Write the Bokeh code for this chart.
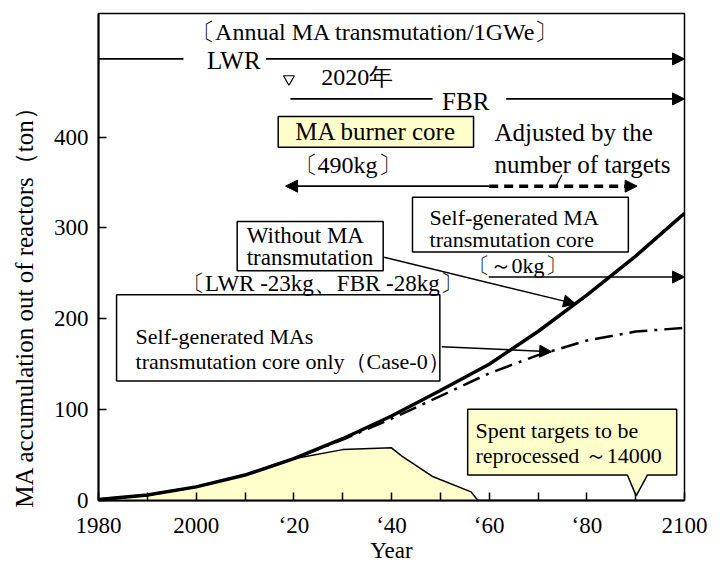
from bokeh.plotting import figure
from bokeh.models import Range1d, FixedTicker, Arrow, NormalHead
from bokeh.core.properties import value
from bokeh.embed import file_html
from bokeh.resources import INLINE

# ---- data ----
years = [1980, 1990, 2000, 2010, 2020, 2030, 2040, 2050, 2060, 2070, 2080, 2090, 2100]
without_ma = [1, 6, 15, 28, 46, 68, 93, 121, 150, 186, 226, 269, 316]
case0 = [1, 6, 15, 28, 46, 67, 90, 115, 140, 160, 176, 186, 190]
target_years = [1980, 1990, 2000, 2010, 2020, 2030, 2040, 2042.2, 2048.3, 2056.3, 2057.7]
target_vals = [1, 6, 15, 28, 46, 56, 58, 48.6, 26.7, 9.5, 0]
x_ticks = [1980, 2000, 2020, 2040, 2060, 2080, 2100]
x_minor = [1990, 2010, 2030, 2050, 2070, 2090]
x_tick_labels = ["1980", "2000", "\u201820", "\u201840", "\u201860", "\u201880", "2100"]
y_ticks = [0, 100, 200, 300, 400]

FONT = "Liberation Serif"
YEL = "#FFFFCC"

p = figure(width=712, height=565, x_range=Range1d(1980, 2100), y_range=Range1d(0, 536),
           output_backend="svg", toolbar_location=None,
           min_border_left=98, min_border_right=28, min_border_top=13, min_border_bottom=62)
p.xgrid.visible = False
p.ygrid.visible = False
p.outline_line_color = "black"
p.outline_line_width = 1.5
p.outline_line_alpha = 1.0

p.xaxis.ticker = FixedTicker(ticks=x_ticks, minor_ticks=x_minor)
p.xaxis.major_label_overrides = {t: l for t, l in zip(x_ticks, x_tick_labels)}
p.yaxis.ticker = FixedTicker(ticks=y_ticks, minor_ticks=[])
for ax in (p.xaxis[0], p.yaxis[0]):
    ax.axis_line_width = 2
    ax.axis_line_color = "black"
    ax.major_tick_in = 8
    ax.major_tick_out = 0
    ax.minor_tick_in = 8
    ax.minor_tick_out = 0
    ax.major_tick_line_width = 1.5
    ax.minor_tick_line_width = 1.5
    ax.major_tick_line_color = "black"
    ax.minor_tick_line_color = "black"
    ax.major_label_text_font = FONT
    ax.major_label_text_font_size = "23px"
    ax.major_label_text_color = "black"
    ax.axis_label_text_font = FONT
    ax.axis_label_text_font_style = "normal"
    ax.axis_label_text_color = "black"
p.xaxis.major_label_standoff = 12
p.yaxis.major_label_standoff = 10
p.xaxis.axis_label = "Year"
p.xaxis.axis_label_text_font_size = "23px"
p.xaxis.axis_label_standoff = -3
p.yaxis.axis_label = "MA accumulation out of reactors（ton）\u2003\u2003\u2003\u2002"
p.yaxis.axis_label_text_font_size = "25px"
p.yaxis.axis_label_standoff = 13

# ---- data marks ----
p.varea(x=target_years, y1=[0] * len(target_vals), y2=target_vals, fill_color=YEL)
p.line(target_years, target_vals, line_color="black", line_width=1.5)
p.line(years, case0, line_color="black", line_width=2.5, line_dash="18 7 3 7")
p.line(years, without_ma, line_color="black", line_width=3.5)


def arrow(x0, y0, x1, y1, lw=1.5, dash="solid", size=12):
    p.add_layout(Arrow(end=NormalHead(size=size, fill_color="black", line_color="black", line_width=1),
                       x_start=x0, y_start=y0, x_end=x1, y_end=y1,
                       line_width=lw, line_color="black", line_dash=dash))


# boxes
p.quad(left=[2016.8], right=[2056.8], top=[422.7], bottom=[388.8], fill_color=YEL,
       line_color="black", line_width=1.5)
p.quad(left=[2044.3, 2008.4, 1983.7], right=[2088.5, 2038.3, 2049.9],
       top=[333.7, 307.1, 226.4], bottom=[273.5, 253.0, 131.4],
       fill_color="white", line_color="black", line_width=1.5)
# callout box
p.patch([2055.6, 2098.4, 2098.4, 2092.4, 2090.1, 2088.3, 2055.6],
        [100.4, 100.4, 28.0, 28.0, 5.1, 28.0, 28.0],
        fill_color=YEL, line_color="black", line_width=1.5)

# horizontal guide lines and arrows
p.line([1980, 1997.4], [486, 486], line_color="black", line_width=1.8)
arrow(2014.3, 486, 2100, 486, lw=1.8)
p.scatter([2019], [464], marker="inverted_triangle", size=11, fill_color=None,
          line_color="black", line_width=1.2)
p.line([2019.3, 2048.4], [442, 442], line_color="black", line_width=1.8)
arrow(2063.5, 442, 2100, 442, lw=1.8)
arrow(2060, 346, 2018.3, 346, lw=1.8)
arrow(2060, 346, 2090.3, 346, lw=3.5, dash="9 6")
p.line([2074.9, 2073.5], [358.5, 344], line_color="black", line_width=1.3)
arrow(2059.9, 246, 2100, 246, lw=1.5)
arrow(2038.5, 267.7, 2077.7, 216.4, lw=1.5)
arrow(2050.3, 169.2, 2072.8, 163.7, lw=1.5)

# annotation texts (glyph text)
notes = [
    (2036.7, 515.5, "〔Annual MA transmutation/1GWe〕", "24px", "center"),
    (2007.7, 484, "LWR", "25px", "center"),
    (2033, 466, "2020年", "24px", "center"),
    (2055.2, 439, "FBR", "25px", "center"),
    (2036.8, 405.8, "MA burner core", "25px", "center"),
    (2031, 369.6, "〔490kg〕", "24px", "center"),
    (2061.1, 404.5, "Adjusted by the", "25px", "left"),
    (2061.1, 369.6, "number of targets", "25px", "left"),
    (2047.8, 311.6, "Self-generated MA", "22px", "left"),
    (2047.8, 287.5, "transmutation core", "22px", "left"),
    (2065.7, 258.5, "〔～0kg〕", "22px", "center"),
    (2010.35, 291.3, "Without MA", "23px", "left"),
    (2010.35, 267.7, "transmutation", "23px", "left"),
    (2025.85, 238.4, "〔LWR -23kg、FBR -28kg〕", "23px", "center"),
    (1987.6, 180, "Self-generated MAs", "22px", "left"),
    (1987.6, 152.7, "transmutation core only（Case-0）", "22px", "left"),
    (2057.2, 77.2, "Spent targets to be", "22px", "left"),
    (2057.2, 49.9, "reprocessed ～14000", "22px", "left"),
]
for nx, ny, s, size, align in notes:
    p.text(x=[nx], y=[ny], text=[s], text_font=value(FONT), text_font_size=value(size),
           text_align=align, text_baseline="middle", text_color="black")

open("out.html", "w").write(file_html(p, INLINE))
